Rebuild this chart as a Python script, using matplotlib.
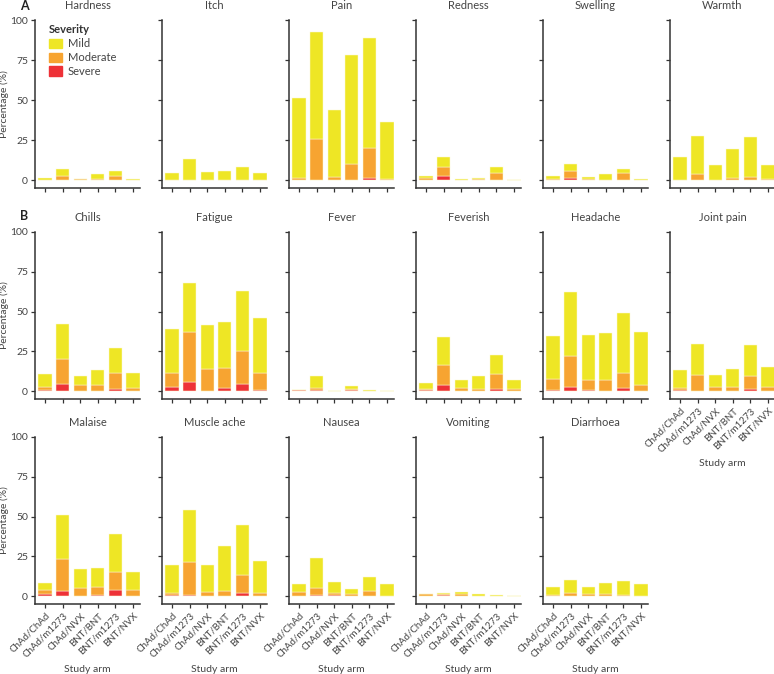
import matplotlib.pyplot as plt
from matplotlib.patches import Patch
import numpy as np

plt.rcParams['font.family'] = ['Lato', 'DejaVu Sans']

#%% Data (cumulative %: any grade, moderate or worse, severe)

arms = ['ChAd/ChAd', 'ChAd/m1273', 'ChAd/NVX', 'BNT/BNT', 'BNT/m1273', 'BNT/NVX']

symptoms = ['Hardness', 'Itch', 'Pain', 'Redness', 'Swelling', 'Warmth',
            'Chills', 'Fatigue', 'Fever', 'Feverish', 'Headache', 'Joint pain',
            'Malaise', 'Muscle ache', 'Nausea', 'Vomiting', 'Diarrhoea']

any_grade = [
    [1.0, 7.1, 0.8, 3.5, 5.8, 0.4],
    [4.2, 13.4, 5.2, 5.8, 8.1, 4.6],
    [51.1, 92.3, 43.6, 78.1, 88.5, 36.5],
    [2.3, 14.6, 0.4, 1.0, 7.9, 0.2],
    [2.3, 9.8, 1.7, 3.5, 6.9, 0.4],
    [14.2, 27.3, 9.2, 19.6, 26.9, 9.4],
    [10.5, 42.3, 9.2, 13.4, 27.3, 11.1],
    [38.8, 68.1, 41.7, 43.6, 62.9, 45.7],
    [0.6, 9.2, 0.0, 3.1, 0.6, 0.0],
    [5.2, 33.8, 6.9, 9.4, 22.6, 6.7],
    [34.4, 62.1, 35.4, 36.7, 49.1, 36.9],
    [13.0, 29.8, 9.9, 13.8, 28.9, 15.3],
    [8.4, 51.2, 16.8, 17.8, 39.0, 14.9],
    [19.3, 53.9, 19.3, 31.2, 44.9, 22.2],
    [7.5, 23.9, 9.0, 4.4, 12.2, 7.3],
    [1.3, 1.7, 2.7, 1.3, 0.4, 0.0],
    [5.5, 9.9, 5.5, 8.0, 9.6, 7.8],
]

moderate_or_worse = [
    [0.0, 2.3, 0.4, 0.5, 2.5, 0.0],
    [0.0, 0.0, 0.0, 0.0, 0.0, 0.3],
    [1.0, 25.5, 1.7, 10.0, 20.0, 0.4],
    [1.2, 8.4, 0.0, 0.6, 4.2, 0.0],
    [0.6, 5.4, 0.6, 0.0, 4.6, 0.0],
    [0.0, 3.5, 0.0, 1.0, 1.7, 0.4],
    [2.3, 20.1, 3.6, 3.6, 11.1, 1.9],
    [11.5, 36.9, 13.6, 14.7, 24.9, 11.1],
    [0.6, 1.7, 0.0, 1.3, 0.0, 0.0],
    [1.3, 16.4, 1.9, 1.3, 10.7, 1.0],
    [7.3, 22.0, 6.7, 7.1, 11.1, 3.6],
    [1.7, 9.9, 2.3, 2.3, 9.4, 2.3],
    [4.0, 23.3, 4.8, 5.7, 15.1, 3.8],
    [1.9, 21.2, 2.3, 2.9, 13.2, 2.1],
    [2.3, 4.8, 1.7, 1.3, 2.9, 0.0],
    [1.2, 1.3, 1.3, 0.0, 0.0, 0.0],
    [0.4, 1.7, 1.3, 1.3, 0.4, 0.0],
]

severe = [
    [0.0, 0.0, 0.0, 0.0, 0.0, 0.0],
    [0.0, 0.0, 0.0, 0.0, 0.0, 0.0],
    [0.0, 0.3, 0.0, 0.0, 1.2, 0.0],
    [0.0, 2.3, 0.0, 0.0, 0.0, 0.0],
    [0.0, 1.0, 0.0, 0.0, 0.0, 0.0],
    [0.0, 0.0, 0.0, 0.0, 0.0, 0.0],
    [0.6, 4.6, 0.0, 0.0, 1.3, 0.0],
    [2.3, 5.7, 0.0, 1.7, 4.4, 0.6],
    [0.6, 0.6, 0.0, 0.6, 0.0, 0.0],
    [0.6, 3.6, 0.0, 0.0, 1.3, 0.0],
    [0.6, 2.3, 0.6, 0.0, 1.7, 0.0],
    [0.6, 0.0, 0.0, 0.0, 1.3, 0.0],
    [1.3, 3.4, 0.0, 0.6, 3.6, 0.0],
    [0.6, 0.6, 0.0, 0.0, 1.7, 0.0],
    [0.0, 0.6, 0.6, 0.0, 0.0, 0.0],
    [0.0, 0.6, 0.0, 0.0, 0.0, 0.0],
    [0.0, 0.0, 0.0, 0.0, 0.0, 0.0],
]

#%% Style

c_mild = '#eee625'
c_mod = '#f7a431'
c_sev = '#ee3137'
txt = '#444444'
spine_c = '#333333'

W, H = 774, 674
fig = plt.figure(figsize=(W / 100, H / 100), dpi=100)

col_left = [35, 162, 289, 416, 543, 670]
row_top = [20, 232, 437]
row_bot = [188, 399, 604]
ax_w = 105

x = np.arange(len(arms))
for i, name in enumerate(symptoms):
    r, c = divmod(i, 6)
    ax_h = row_bot[r] - row_top[r]
    ax = fig.add_axes([col_left[c] / W, 1 - row_bot[r] / H, ax_w / W, ax_h / H])
    ax.set_facecolor('none')
    tot = np.array(any_grade[i])
    mod = np.array(moderate_or_worse[i])
    sev = np.array(severe[i])
    kw = dict(width=0.75, edgecolor='#fbf7d0', linewidth=0.35)
    ax.bar(x, sev, color=c_sev, **kw)
    ax.bar(x, mod - sev, bottom=sev, color=c_mod, **kw)
    ax.bar(x, tot - mod, bottom=mod, color=c_mild, **kw)

    ax.set_xlim(-0.57, 5.4)
    ax.set_ylim(-5, 100)
    ax.set_yticks([0, 25, 50, 75, 100])
    ax.set_xticks(x)
    for s in ['top', 'right']:
        ax.spines[s].set_visible(False)
    for s in ['left', 'bottom']:
        ax.spines[s].set_color(spine_c)
        ax.spines[s].set_linewidth(1.1)
    ax.tick_params(colors=spine_c, labelcolor=txt, labelsize=7.5, length=3, width=0.9, pad=2)
    ax.set_title(name, fontsize=8, color=txt, pad=8)

    if c != 0:
        ax.set_yticklabels([])
    else:
        ax.set_ylabel('Percentage (%)', fontsize=7.5, color=txt)
        ax.yaxis.set_label_coords(-26 / ax_w, 0.5)

    if r == 2 or name == 'Joint pain':
        ax.set_xticklabels(arms, rotation=45, ha='right', rotation_mode='anchor', fontsize=7)
        ax.set_xlabel('Study arm', fontsize=7.5, color=txt, va='center')
        ax.xaxis.set_label_coords(0.5, -65 / ax_h)
    else:
        ax.set_xticklabels([])

    if i == 0:
        handles = [Patch(color=c_mild, label='Mild'),
                   Patch(color=c_mod, label='Moderate'),
                   Patch(color=c_sev, label='Severe')]
        leg = ax.legend(handles=handles, title='Severity', loc='upper left',
                        bbox_to_anchor=(0.09, 1.0), frameon=False, fontsize=8,
                        title_fontproperties={'weight': 'bold', 'size': 8},
                        handlelength=1.2, handleheight=0.9, handletextpad=0.5,
                        labelspacing=0.25, borderaxespad=0)
        leg._legend_box.align = 'left'
        for t in leg.get_texts():
            t.set_color(txt)
        leg.get_title().set_color('#333333')

fig.text(20 / W, 1 - 6 / H, 'A', fontsize=9, fontweight='bold', color='#222222', va='center')
fig.text(20 / W, 1 - 216 / H, 'B', fontsize=9, fontweight='bold', color='#222222', va='center')

plt.savefig('out.png', dpi=100)
